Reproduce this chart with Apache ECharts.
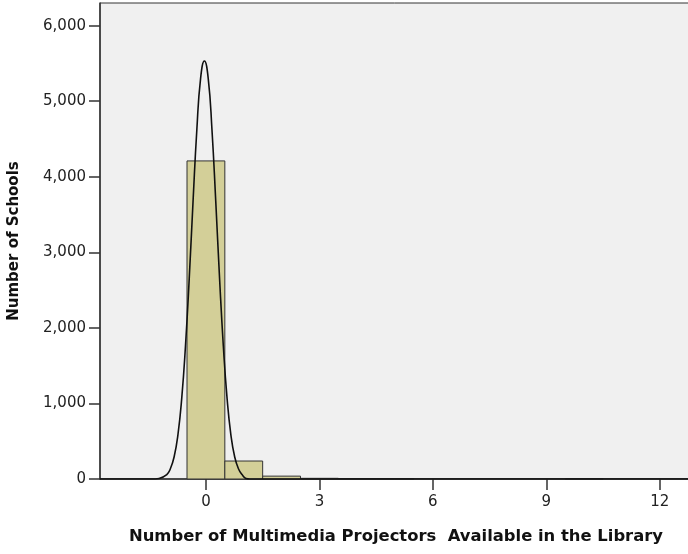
<!DOCTYPE html>
<html>
<head>
<meta charset="utf-8">
<script src="https://cdn.jsdelivr.net/npm/echarts@6/dist/echarts.min.js"></script>
<style>html,body{margin:0;padding:0;background:#fff;}#c{width:688px;height:554px;}</style>
</head>
<body>
<div id="c"></div>
<script>
// Histogram bins (centre of each unit-wide bin) and counts
const binCenters = [0, 1, 2, 3, 4, 5, 10];
const binCounts  = [4210, 238, 38, 9, 1, 4, 4];
// Normal curve points
const curveX = [-2.8, -1.44, -1.24, -1.04, -0.94, -0.84, -0.74, -0.64, -0.54, -0.44, -0.34, -0.24, -0.14, -0.04, 0.06, 0.16, 0.26, 0.36, 0.46, 0.56, 0.66, 0.76, 0.86, 0.96, 1.06, 1.16, 1.36, 1.56, 12.9];
const curveY = [0, 0, 7, 56, 135, 294, 585, 1064, 1763, 2664, 3675, 4623, 5306, 5533, 5306, 4623, 3675, 2664, 1763, 1064, 585, 294, 135, 56, 7, 0, 0, 0, 0];
const yTicks = [0, 1000, 2000, 3000, 4000, 5000, 6000];
const xTicks = [0, 3, 6, 9, 12];

const chart = echarts.init(document.getElementById('c'), null, {renderer: 'canvas'});
const font = '"DejaVu Sans", sans-serif';
chart.setOption({
  animation: false,
  grid: {left: 100, top: 3, right: -4, bottom: 75, outerBoundsMode: 'none', containLabel: false,
    show: true, backgroundColor: '#f0f0f0', borderColor: '#333', borderWidth: 1},
  xAxis: {
    type: 'value', min: -2.8, max: 12.85,
    name: 'Number of Multimedia Projectors  Available in the Library',
    nameLocation: 'middle', nameGap: 50,
    nameTextStyle: {fontFamily: font, fontWeight: 'bold', fontSize: 16.4, color: '#111'},
    splitLine: {show: false},
    axisLine: {show: true, onZero: false, lineStyle: {color: '#333', width: 1.5}},
    axisTick: {show: true, inside: false, length: 11, customValues: xTicks, lineStyle: {color: '#333', width: 1.5}},
    axisLabel: {customValues: xTicks, margin: 16, fontFamily: font, fontSize: 15, color: '#222'}
  },
  yAxis: {
    type: 'value', min: 0, max: 6300,
    name: 'Number of Schools',
    nameLocation: 'middle', nameGap: 78,
    nameTextStyle: {fontFamily: font, fontWeight: 'bold', fontSize: 15, color: '#111'},
    splitLine: {show: false},
    axisLine: {show: true, onZero: false, lineStyle: {color: '#333', width: 1.5}},
    axisTick: {show: true, inside: false, length: 11, customValues: yTicks, lineStyle: {color: '#333', width: 1.5}},
    axisLabel: {customValues: yTicks, margin: 14, fontFamily: font, fontSize: 15, color: '#222',
      formatter: v => v.toLocaleString('en-US')}
  },
  series: [
    {
      type: 'custom',
      data: binCenters.map((c, i) => [c, binCounts[i]]),
      renderItem: function (params, api) {
        const x = api.value(0), y = api.value(1);
        const p1 = api.coord([x - 0.5, y]);
        const p2 = api.coord([x + 0.5, 0]);
        return {
          type: 'rect',
          shape: {x: p1[0], y: p1[1], width: p2[0] - p1[0], height: p2[1] - p1[1]},
          style: {fill: '#d3cf98', stroke: '#333', lineWidth: 1}
        };
      },
      z: 2
    },
    {
      type: 'line',
      data: curveX.map((x, i) => [x, curveY[i]]),
      smooth: true,
      showSymbol: false,
      lineStyle: {color: '#111', width: 1.6},
      z: 3
    }
  ]
});
</script>
</body>
</html>
